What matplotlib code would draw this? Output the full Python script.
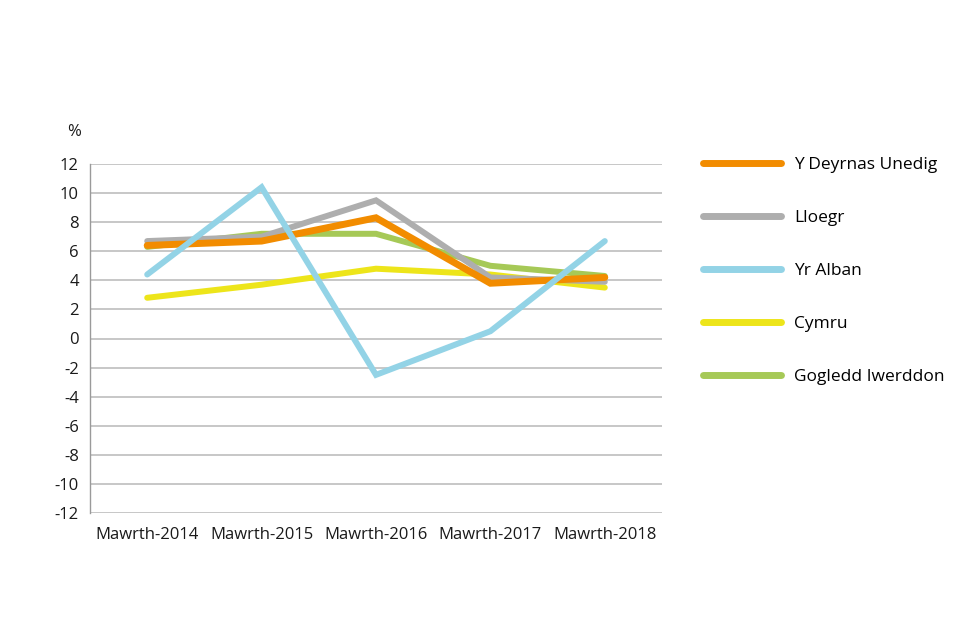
import matplotlib
matplotlib.use("Agg")
import matplotlib.pyplot as plt

categories = ["Mawrth-2014", "Mawrth-2015", "Mawrth-2016", "Mawrth-2017", "Mawrth-2018"]
uk = [6.4, 6.7, 8.3, 3.8, 4.2]
england = [6.7, 7.0, 9.5, 4.2, 3.9]
scotland = [4.4, 10.4, -2.5, 0.5, 6.7]
wales = [2.8, 3.7, 4.8, 4.4, 3.5]
ni = [6.3, 7.2, 7.2, 5.0, 4.3]
yticks = list(range(-12, 13, 2))

plt.rcParams['font.family'] = ['Open Sans', 'DejaVu Sans']

fig = plt.figure(figsize=(9.6, 6.4), dpi=100)
ax = fig.add_axes([90/960, 1-513/640, 572/960, 349/640])

x = list(range(len(categories)))
series = [
    ("Cymru", wales, "#EDE51A", 4.3, 1),
    ("Gogledd Iwerddon", ni, "#A6C957", 4.3, 2),
    ("Lloegr", england, "#AEAEAE", 4.3, 3),
    ("Y Deyrnas Unedig", uk, "#F28C00", 5.0, 4),
    ("Yr Alban", scotland, "#93D3E6", 4.3, 5),
]
handles = {}
for name, vals, col, lw, z in series:
    ln, = ax.plot(x, vals, color=col, lw=lw, zorder=z, solid_capstyle='round', solid_joinstyle='miter')
    handles[name] = ln

ax.set_xlim(-0.5, 4.5)
ax.set_ylim(-12, 12)
ax.set_yticks(yticks)
ax.set_yticklabels([str(v) if v >= 0 else "-" + str(abs(v)) for v in yticks])
ax.set_xticks(x)
ax.set_xticklabels(categories)
ax.grid(axis='y', color='#BDBDBD', lw=1.2, zorder=0)
ax.set_axisbelow(True)
for s in ['top', 'right', 'bottom']:
    ax.spines[s].set_visible(False)
ax.spines['left'].set_color('#9A9A9A')
ax.spines['left'].set_linewidth(1.0)
ax.tick_params(axis='both', length=0, labelsize=12, colors='#1a1a1a')
ax.tick_params(axis='y', pad=8)
ax.tick_params(axis='x', pad=10)

fig.text(74/960, 1-132/640, "%", ha='center', va='center', fontsize=12, color='#1a1a1a')

order = ["Y Deyrnas Unedig", "Lloegr", "Yr Alban", "Cymru", "Gogledd Iwerddon"]
leg = fig.legend([handles[n] for n in order], order, loc='upper left',
                 bbox_to_anchor=(703/960, 1-157/640), frameon=False, fontsize=12.5,
                 handlelength=4.5, handletextpad=0.75, labelspacing=2.12, borderpad=0,
                 borderaxespad=0)
for l in leg.get_lines():
    l.set_linewidth(5.0)
    l.set_solid_capstyle('round')

fig.savefig("out.png", dpi=100)
